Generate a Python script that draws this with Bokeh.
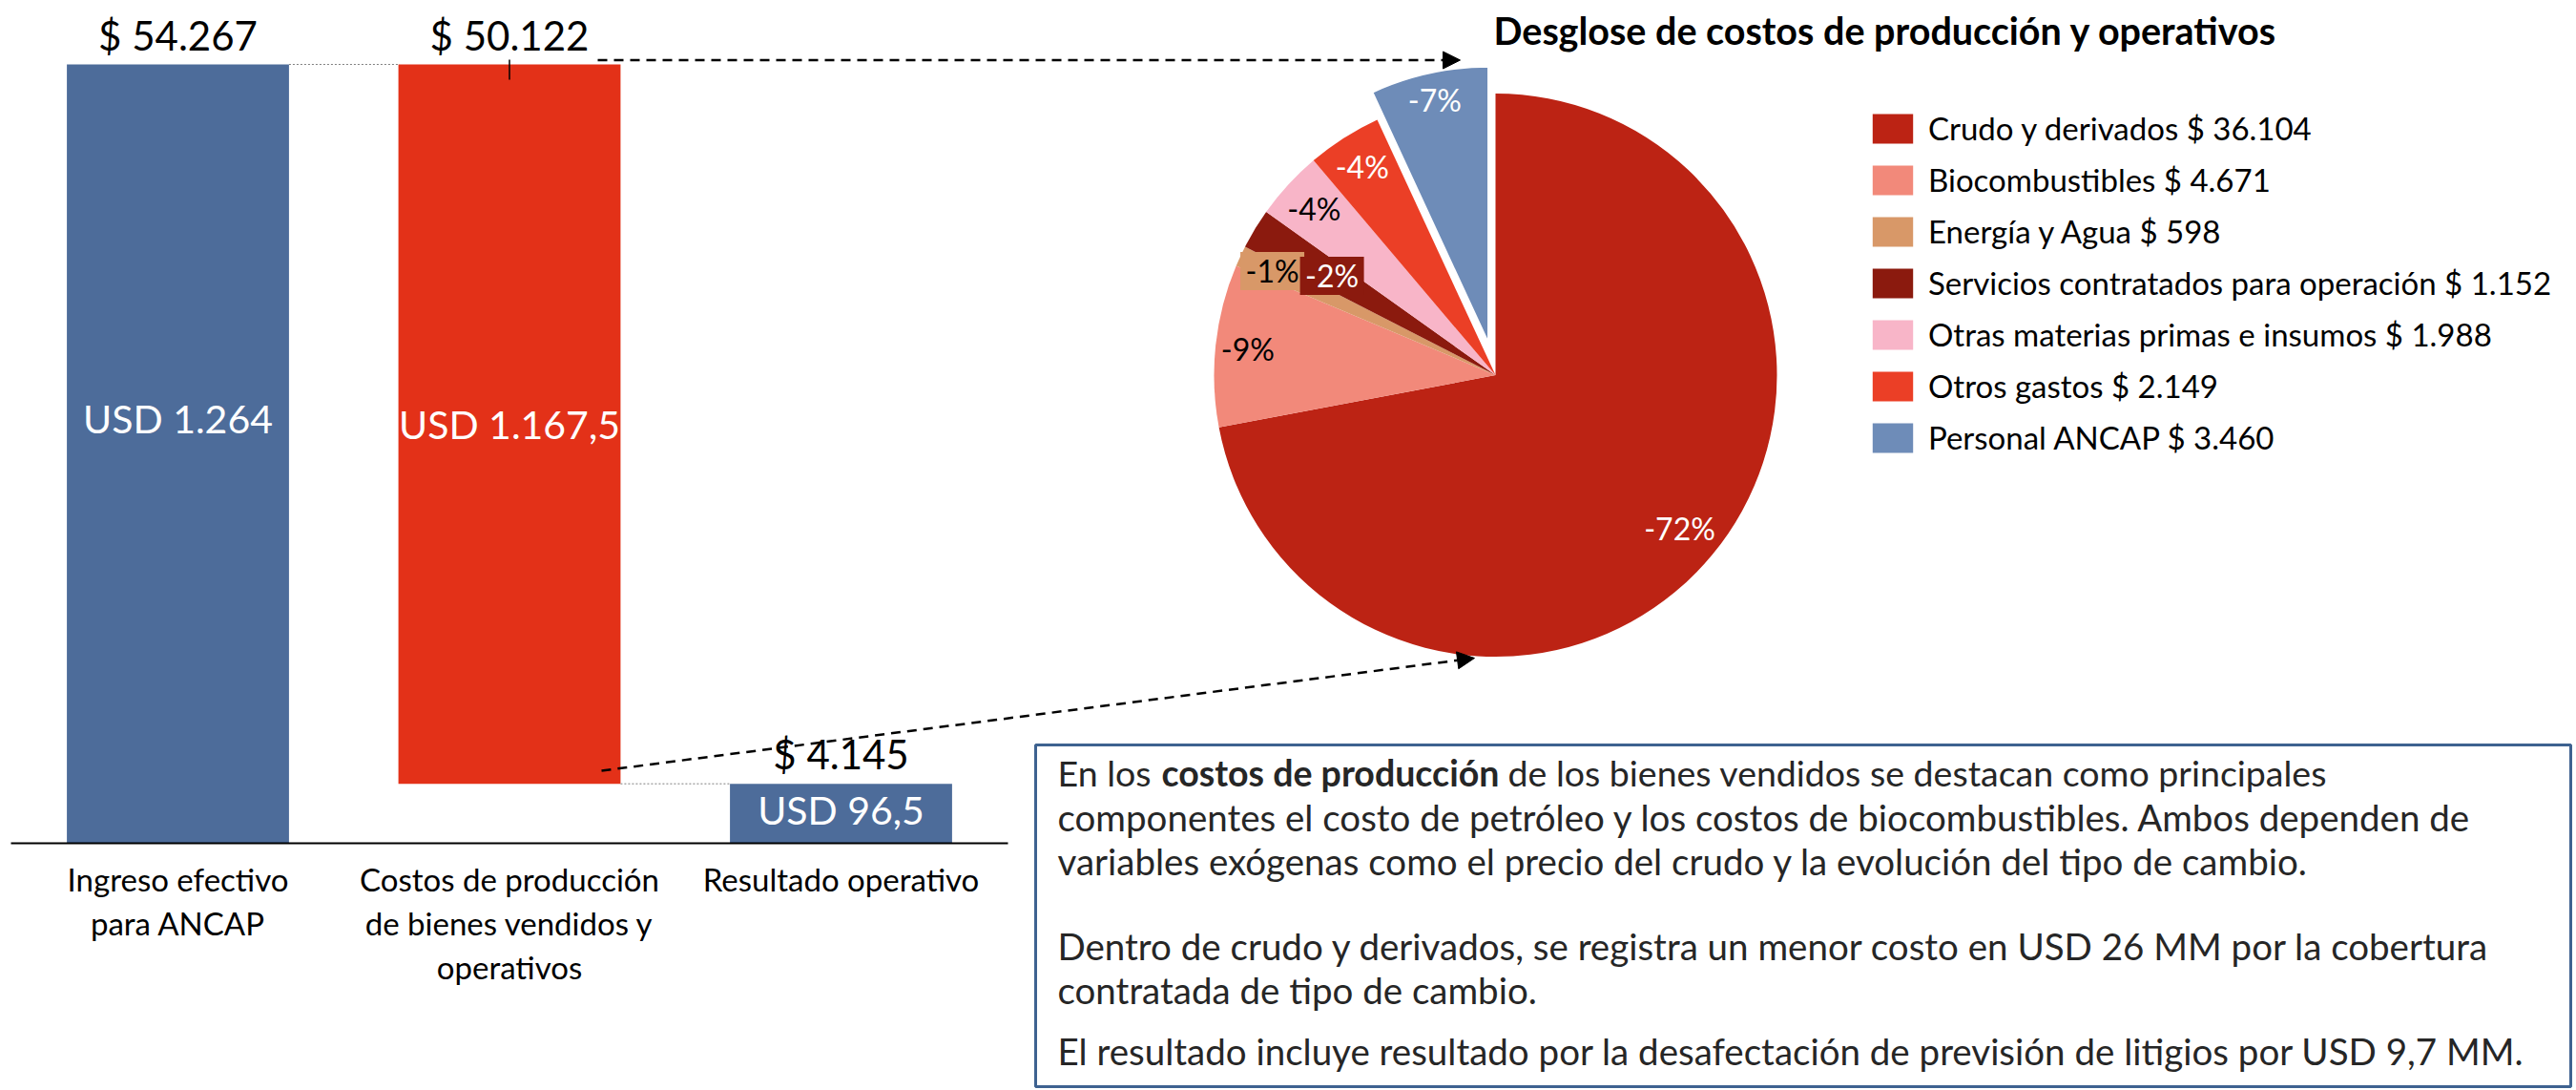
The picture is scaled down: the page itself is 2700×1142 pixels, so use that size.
import math
from bokeh.plotting import figure
from bokeh.models import Range1d, Arrow, NormalHead, Legend, LegendItem, ColumnDataSource
from bokeh.core.properties import value
from bokeh.embed import file_html
from bokeh.resources import INLINE

# ---------------- data ----------------
categories = ["Ingreso efectivo\npara ANCAP",
              "Costos de producción\nde bienes vendidos y\noperativos",
              "Resultado operativo"]
amounts = [54267, 50122, 4145]            # $ millones
value_labels = ["$ 54.267", "$ 50.122", "$ 4.145"]
usd_labels = ["USD 1.264", "USD 1.167,5", "USD 96,5"]

cost_items = ["Crudo y derivados", "Biocombustibles", "Energía y Agua",
              "Servicios contratados para operación",
              "Otras materias primas e insumos", "Otros gastos", "Personal ANCAP"]
cost_values = [36104, 4671, 598, 1152, 1988, 2149, 3460]

pie_title = "Desglose de costos de producción y operativos"
note_line1 = ["En los ", "costos de producción", "de los bienes vendidos se destacan como principales"]
note_lines = [
    "componentes el costo de petróleo y los costos de biocombustibles. Ambos dependen de",
    "variables exógenas como el precio del crudo y la evolución del tipo de cambio.",
    "Dentro de crudo y derivados, se registra un menor costo en USD 26 MM por la cobertura",
    "contratada de tipo de cambio.",
    "El resultado incluye resultado por la desafectación de previsión de litigios por USD 9,7 MM.",
]

# ---------------- styles ----------------
bar_colors = ["#4D6C9A", "#E33118", "#4D6C9A"]
pie_colors = ["#BC2314", "#F2897A", "#D89868", "#8B1A0E", "#F8B5C8", "#EB3F26", "#6E8CB8"]
pie_label_colors = ["white", "black", "black", "white", "black", "white", "white"]
pie_label_rf = [0.85, 0.885, 0.875, 0.68, 0.875, 0.88, 0.9]
FONT = "Lato"
NOTE_SIZE = "38.5px"
NOTE1_SIZE = "37.5px"

W, H = 2698, 1140


def X(xr):
    return xr


def Y(yr):
    return H - yr


def fmt(v):
    return f"{v:,}".replace(",", ".")


p = figure(width=W, height=H, x_range=Range1d(0, W), y_range=Range1d(0, H),
           output_backend="svg", toolbar_location=None, min_border=0,
           x_axis_type=None, y_axis_type=None, outline_line_color=None)
p.grid.visible = False
p.background_fill_color = "white"
p.border_fill_color = "white"

# ---------------- waterfall ----------------
bar_step = 347.5
c0 = X(186)
p.extra_x_ranges = {"wx": Range1d(-c0 / bar_step, (W - c0) / bar_step)}
zero_px = Y(883)
top_px = Y(67)
k = amounts[0] / (top_px - zero_px)      # value units per pixel
p.extra_y_ranges = {"wy": Range1d(-zero_px * k, (H - zero_px) * k)}

idx = list(range(len(amounts)))
bottoms = [0, amounts[0] - amounts[1], 0]
tops = [amounts[0], amounts[0], amounts[0] - amounts[1]]
bw = 0.67
p.vbar(x=idx, bottom=bottoms, top=tops, width=bw, fill_color=bar_colors,
       line_color=None, x_range_name="wx", y_range_name="wy")

# connectors
p.segment(x0=[0 + bw / 2, 1 + bw / 2], y0=[tops[0], bottoms[1]],
          x1=[1 - bw / 2, 2 - bw / 2], y1=[tops[1], tops[2]],
          line_color="#7F7F7F", line_width=1, line_dash="2 2",
          x_range_name="wx", y_range_name="wy")
# small tick on the cost bar
p.segment(x0=[1], y0=[tops[1] + 5 * k], x1=[1], y1=[tops[1] - 16 * k],
          line_color="black", line_width=1.5, x_range_name="wx", y_range_name="wy")

# value labels
p.text(x=idx, y=[t + 31 * k for t in tops], text=value_labels,
       text_align="center", text_baseline="middle", text_font=value(FONT),
       text_font_size="42px", text_color="black", x_range_name="wx", y_range_name="wy")

usd_frac = [0.545, 0.5, 0.565]
p.text(x=idx, y=[b + f * (t - b) for b, t, f in zip(bottoms, tops, usd_frac)], text=usd_labels,
       text_align="center", text_baseline="middle", text_font=value(FONT),
       text_font_size="41px", text_color="white", x_range_name="wx", y_range_name="wy")

# baseline
p.segment(x0=[X(11)], y0=[zero_px], x1=[X(1056)], y1=[zero_px], line_color="black", line_width=2)

# category labels
cx_, cy_, ct_ = [], [], []
for i, c in enumerate(categories):
    for j, line in enumerate(c.split("\n")):
        cx_.append(i)
        cy_.append(Y(920 + 46 * j))
        ct_.append(line)
p.text(x=cx_, y=cy_, text=ct_, text_align="center", text_baseline="middle",
       text_font=value(FONT), text_font_size="33px", text_color="black", x_range_name="wx")

# ---------------- arrows ----------------
for (xs_, ys_, xe_, ye_) in [(626, 62.5, 1530, 62.5), (630, 807, 1545, 689)]:
    p.add_layout(Arrow(x_start=X(xs_), y_start=Y(ys_), x_end=X(xe_), y_end=Y(ye_),
                       line_color="black", line_width=2.5, line_dash="10 7",
                       end=NormalHead(size=18, fill_color="black", line_color="black", line_width=1)))

# ---------------- pie ----------------
total = sum(cost_values)
pcx, pcy, pr = X(1567), Y(392.6), 295
explode = [0, 0, 0, 0, 0, 0, 30]
starts, ends, mids, xs, ys = [], [], [], [], []
cum = 0.0
for v, e in zip(cost_values, explode):
    a0 = math.pi / 2 - 2 * math.pi * cum / total
    cum += v
    a1 = math.pi / 2 - 2 * math.pi * cum / total
    m = (a0 + a1) / 2
    starts.append(a0)
    ends.append(a1)
    mids.append(m)
    xs.append(pcx + e * math.cos(m))
    ys.append(pcy + e * math.sin(m))

src = ColumnDataSource(dict(x=xs, y=ys, start=starts, end=ends, color=pie_colors))
r_pie = p.wedge(x="x", y="y", radius=pr, start_angle="start", end_angle="end",
                direction="clock", fill_color="color", line_color=None, source=src)
# white outline on the exploded slice
p.wedge(x=[xs[-1]], y=[ys[-1]], radius=pr, start_angle=[starts[-1]], end_angle=[ends[-1]],
        direction="clock", fill_color=None, line_color="white", line_width=4)

pct = [f"-{round(100 * v / total)}%" for v in cost_values]
lx = [x + f * pr * math.cos(m) for x, f, m in zip(xs, pie_label_rf, mids)]
ly = [y + f * pr * math.sin(m) for y, f, m in zip(ys, pie_label_rf, mids)]
box_i = [2, 3]
p.rect(x=[lx[i] for i in box_i], y=[ly[i] for i in box_i], width=67, height=40,
       fill_color=[pie_colors[i] for i in box_i], line_color=None)
p.text(x=lx, y=ly, text=pct, text_color=pie_label_colors, text_align="center",
       text_baseline="middle", text_font=value(FONT), text_font_size="32px")

p.text(x=[X(1565)], y=[Y(31)], text=[pie_title], text_align="left", text_baseline="middle",
       text_font=value(FONT), text_font_size="39.5px", text_font_style="bold", text_color="black")

legend = Legend(items=[LegendItem(label=f"{n} $ {fmt(v)}", renderers=[r_pie], index=i)
                       for i, (n, v) in enumerate(zip(cost_items, cost_values))],
                location=(X(1957), Y(478)), glyph_width=53, glyph_height=39, spacing=14,
                label_standoff=11, label_text_font=FONT, label_text_font_size="33px",
                label_text_color="black", border_line_color=None, background_fill_alpha=0,
                padding=0, margin=0)
p.add_layout(legend)

# ---------------- notes box ----------------
p.quad(left=[X(1085)], right=[X(2694)], top=[Y(780)], bottom=[Y(1138)],
       fill_color="white", line_color="#3E6290", line_width=3)
tc = "#262626"
note_y = [809, 855, 901, 990, 1036, 1100]
p.text(x=[X(1108)], y=[Y(note_y[0])], text=[note_line1[0]], text_align="left", text_baseline="middle",
       text_font=value(FONT), text_font_size=NOTE1_SIZE, text_color=tc)
p.text(x=[X(1217)], y=[Y(note_y[0])], text=[note_line1[1]], text_align="left", text_baseline="middle",
       text_font=value(FONT), text_font_size=NOTE1_SIZE, text_font_style="bold", text_color=tc)
p.text(x=[X(1580)], y=[Y(note_y[0])], text=[note_line1[2]], text_align="left", text_baseline="middle",
       text_font=value(FONT), text_font_size=NOTE1_SIZE, text_color=tc)
p.text(x=[X(1108)] * len(note_lines), y=[Y(v) for v in note_y[1:]], text=note_lines,
       text_align="left", text_baseline="middle", text_font=value(FONT),
       text_font_size=NOTE_SIZE, text_color=tc)

open("out.html", "w").write(file_html(p, INLINE))
